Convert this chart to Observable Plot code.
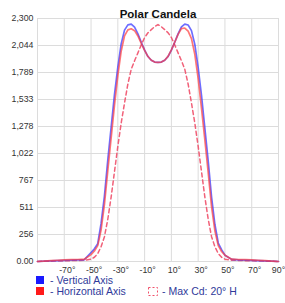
<!DOCTYPE html>
<html>
<head>
<meta charset="utf-8">
<script src="https://cdn.jsdelivr.net/npm/d3@7"></script>
<script src="https://cdn.jsdelivr.net/npm/@observablehq/plot@0.6"></script>
<style>
  html, body { margin: 0; padding: 0; background: #fff; }
  #chart { width: 285px; height: 303px; overflow: hidden; }
</style>
</head>
<body>
<div id="chart"></div>
<script>
const title = "Polar Candela";
const angles = [-90,-85,-80,-75,-70,-65,-60,-55,-50,-47.5,-45,-42.5,-40,-37.5,-35,-32.5,-30,-27.5,-25,-22.5,-20,-17.5,-15,-12.5,-10,-7.5,-5,-2.5,0,2.5,5,7.5,10,12.5,15,17.5,20,22.5,25,27.5,30,32.5,35,37.5,40,42.5,45,47.5,50,55,60,65,70,75,80,85,90];
const verticalAxis = [0,3,6,9,11,13,15,18,85,120,168,360,620,960,1270,1580,1840,2060,2190,2240,2247,2218,2155,2075,2000,1940,1905,1888,1885,1888,1905,1940,2000,2075,2155,2220,2247,2238,2185,2055,1835,1570,1260,950,610,350,175,112,60,20,15,13,11,9,6,3,0];
const horizontalAxis = [0,4,8,12,15,17,19,22,65,100,150,300,540,860,1170,1480,1760,1990,2135,2192,2203,2185,2135,2065,1998,1940,1905,1888,1885,1888,1905,1942,2003,2075,2150,2205,2210,2180,2110,1960,1730,1450,1150,840,520,290,150,95,60,22,19,17,15,12,8,4,0];
const maxCd = [0,2,3,5,6,8,10,12,22,40,75,140,235,400,610,850,1090,1310,1500,1680,1820,1900,1975,2050,2120,2165,2195,2222,2243,2222,2195,2165,2120,2050,1975,1900,1820,1680,1500,1310,1090,850,610,400,235,140,75,40,22,12,10,8,6,5,3,2,0];
const yTicks = [0, 2300/9, 2*2300/9, 3*2300/9, 4*2300/9, 5*2300/9, 6*2300/9, 7*2300/9, 8*2300/9, 2300];
const yLabels = ["0.00","256","511","767","1,022","1,278","1,533","1,789","2,044","2,300"];
const xTicks = [-70,-50,-30,-10,10,30,50,70];
const xLastTick = [90];
const xGrid = [-90,-70,-50,-30,-10,10,30,50,70,90];
const legendItems = [
  {label: "- Vertical Axis", color: "#1a1aff", kind: "fill"},
  {label: "- Horizontal Axis", color: "#ff1a1a", kind: "fill"},
  {label: "- Max Cd: 20\u00b0 H", color: "#f0506a", kind: "dash"}
];

const series = [
  {name: "Max Cd: 20\u00b0 H", values: maxCd},
  {name: "Vertical Axis", values: verticalAxis},
  {name: "Horizontal Axis", values: horizontalAxis}
];
const rows = series.flatMap(s => angles.map((a, i) => ({angle: a, value: s.values[i], series: s.name})));

const plot = Plot.plot({
  width: 285,
  height: 303,
  marginLeft: 37,
  marginRight: 7,
  marginTop: 18,
  marginBottom: 42,
  style: {fontFamily: "Liberation Sans, Arial, sans-serif", fontSize: "8.8px", color: "#333", background: "#fff"},
  x: {domain: [-90, 90], label: null},
  y: {domain: [0, 2300], label: null},
  marks: [
    Plot.gridX(xGrid, {stroke: "#dcdcdc", strokeOpacity: 1, strokeWidth: 1}),
    Plot.gridY(yTicks, {stroke: "#dcdcdc", strokeOpacity: 1, strokeWidth: 1}),
    Plot.axisY({ticks: yTicks, tickSize: 0, tickPadding: 4, tickFormat: d => yLabels[yTicks.indexOf(d)], fill: "#333", fontSize: 8.8}),
    Plot.axisX({ticks: xTicks, tickSize: 0, tickPadding: 5, tickFormat: d => d + "\u00b0", dx: 3, fill: "#333", fontSize: 8.8}),
    Plot.axisX({ticks: xLastTick, tickSize: 0, tickPadding: 5, tickFormat: d => d + "\u00b0", dx: 0, textAnchor: "middle", fill: "#333", fontSize: 8.8}),
    Plot.line(rows.filter(r => r.series === "Max Cd: 20\u00b0 H"), {x: "angle", y: "value", stroke: "#f0506a", strokeWidth: 1.5, strokeDasharray: "4,3", strokeOpacity: 0.9}),
    Plot.line(rows.filter(r => r.series === "Vertical Axis"), {x: "angle", y: "value", stroke: "#3c3cff", strokeWidth: 1.7, strokeOpacity: 0.75}),
    Plot.line(rows.filter(r => r.series === "Horizontal Axis"), {x: "angle", y: "value", stroke: "#ff3c3c", strokeWidth: 1.7, strokeOpacity: 0.7}),
    Plot.text([title], {text: d => d, frameAnchor: "top", dy: -9, fontWeight: "bold", fontSize: 11.5, fill: "#111"})
  ]
});

const svg = d3.select(plot);
const lg = svg.append("g").attr("font-family", "Liberation Sans, Arial, sans-serif").attr("font-size", "10.5px").attr("text-anchor", "start");
const legendPos = [{x: 36, y: 276}, {x: 36, y: 287}, {x: 148, y: 287}];
legendItems.forEach((item, i) => {
  const p = legendPos[i];
  if (item.kind === "fill") {
    lg.append("rect").attr("x", p.x).attr("y", p.y).attr("width", 8).attr("height", 8).attr("fill", item.color);
  } else {
    lg.append("rect").attr("x", p.x + 0.5).attr("y", p.y + 0.5).attr("width", 9).attr("height", 8).attr("fill", "none").attr("stroke", item.color).attr("stroke-dasharray", "2,2");
  }
  lg.append("text").attr("x", p.x + 14).attr("y", p.y + 8).attr("text-anchor", "start").attr("fill", "#2f3a9a").text(item.label);
});

document.getElementById("chart").appendChild(plot);
</script>
</body>
</html>
